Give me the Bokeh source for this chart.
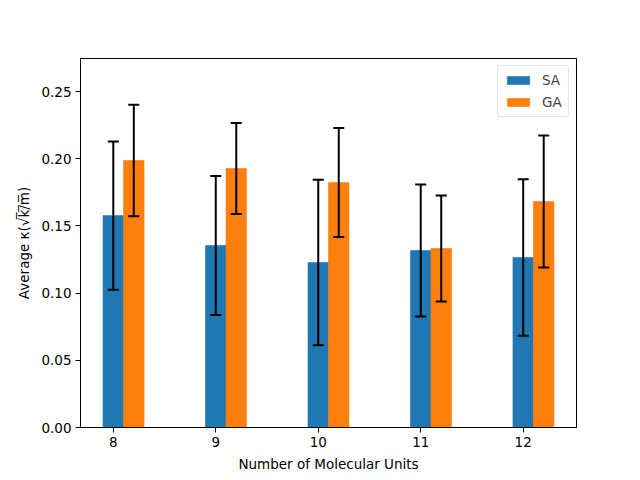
from bokeh.plotting import figure
from bokeh.models import ColumnDataSource, Range1d, FixedTicker, PrintfTickFormatter, Whisker, TeeHead, Legend, LegendItem
from bokeh.embed import file_html
from bokeh.resources import INLINE

units = [8, 9, 10, 11, 12]
sa_mean = [0.1577, 0.1354, 0.1228, 0.1317, 0.1265]
sa_err = [0.0551, 0.0517, 0.0616, 0.0491, 0.0582]
ga_mean = [0.1987, 0.1927, 0.1823, 0.1332, 0.1682]
ga_err = [0.0415, 0.0339, 0.0406, 0.0395, 0.0491]
width = 0.2

sa = ColumnDataSource(dict(
    x=units, top=sa_mean,
    upper=[m + e for m, e in zip(sa_mean, sa_err)],
    lower=[m - e for m, e in zip(sa_mean, sa_err)]))
ga = ColumnDataSource(dict(
    x=[u + width for u in units], top=ga_mean,
    upper=[m + e for m, e in zip(ga_mean, ga_err)],
    lower=[m - e for m, e in zip(ga_mean, ga_err)]))

FONT = "DejaVu Sans"
FS = "13.5px"

p = figure(output_backend="svg", toolbar_location=None,
           frame_width=496, frame_height=369,
           min_border_left=80, min_border_right=56, min_border_top=58, min_border_bottom=45,
           x_range=Range1d(7.68, 12.52), y_range=Range1d(0, 0.2746))
p.xgrid.visible = False
p.ygrid.visible = False
p.outline_line_color = "black"
p.outline_line_width = 1
p.background_fill_color = "white"

r_sa = p.vbar(x="x", top="top", width=width, source=sa, fill_color="#1f77b4",
              line_color="#1f77b4", line_width=0.6)
r_ga = p.vbar(x="x", top="top", width=width, source=ga, fill_color="#ff7f0e",
              line_color="#ff7f0e", line_width=0.6)

for src in (sa, ga):
    w = Whisker(base="x", upper="upper", lower="lower", source=src, level="overlay",
                line_color="black", line_width=2,
                upper_head=TeeHead(size=11, line_color="black", line_width=2),
                lower_head=TeeHead(size=11, line_color="black", line_width=2))
    p.add_layout(w)

p.xaxis.ticker = FixedTicker(ticks=units)
p.yaxis.ticker = FixedTicker(ticks=[0.0, 0.05, 0.10, 0.15, 0.20, 0.25])
p.yaxis.formatter = PrintfTickFormatter(format="%.2f")
p.xaxis.axis_label = "Number of Molecular Units"
p.yaxis.axis_label = "Average κ(√k̅/̅m̅)"
for ax in (p.xaxis, p.yaxis):
    ax.axis_line_color = "black"
    ax.major_tick_line_color = "black"
    ax.major_tick_out = 5
    ax.major_tick_in = 0
    ax.minor_tick_line_color = None
    ax.major_label_text_font = FONT
    ax.major_label_text_font_size = FS
    ax.major_label_text_color = "black"
    ax.axis_label_text_font = FONT
    ax.axis_label_text_font_size = FS
    ax.axis_label_text_font_style = "normal"
    ax.axis_label_text_color = "black"
    ax.axis_label_standoff = 6
p.xaxis.major_label_standoff = 4
p.yaxis.major_label_standoff = 4

legend = Legend(items=[LegendItem(label="SA", renderers=[r_sa]),
                       LegendItem(label="GA", renderers=[r_ga])],
                location="top_right")
legend.label_text_font = FONT
legend.label_text_font_size = FS
legend.glyph_width = 28
legend.glyph_height = 10
legend.label_standoff = 10
legend.spacing = 6
legend.padding = 6
legend.margin = 7
legend.border_line_color = "#cccccc"
legend.border_line_width = 1
legend.border_radius = 3
legend.background_fill_alpha = 0.8
p.add_layout(legend)

open("out.html", "w").write(file_html(p, INLINE))
